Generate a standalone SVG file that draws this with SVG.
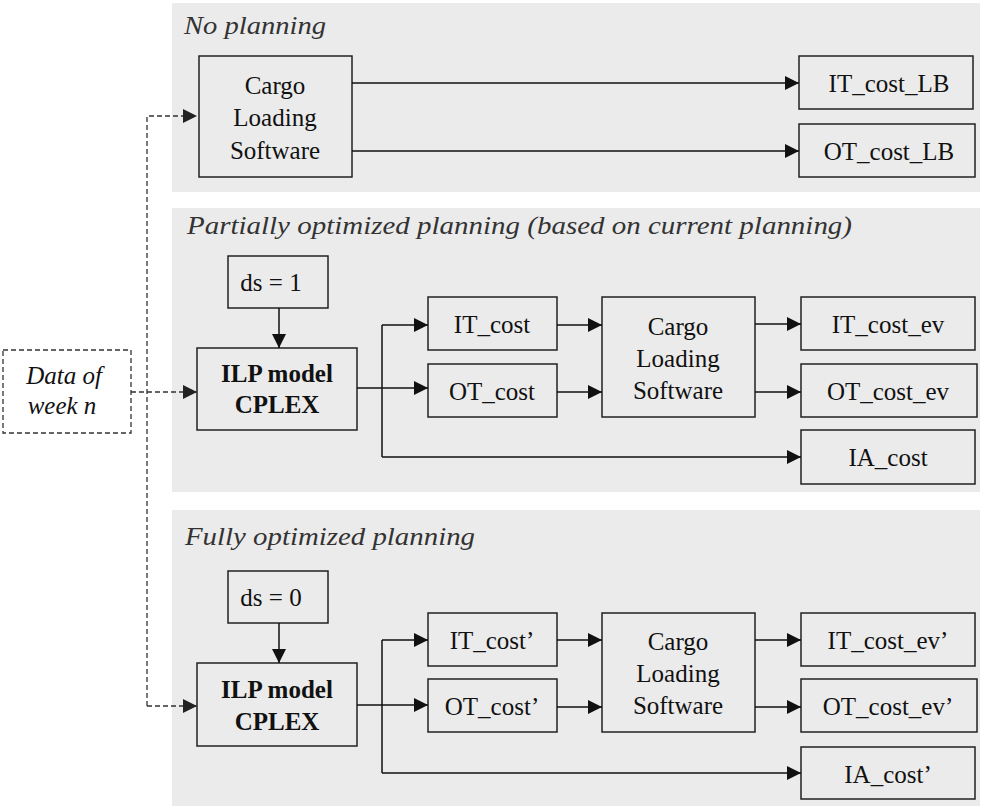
<svg xmlns="http://www.w3.org/2000/svg" width="982" height="806" viewBox="0 0 982 806">
<style>
.panel{fill:#ebebeb;stroke:none}
.box{fill:none;stroke:#222;stroke-width:1.5}
.dbox{fill:none;stroke:#333;stroke-width:1.3;stroke-dasharray:5,3}
.t{font-family:"Liberation Serif","Times New Roman",serif;font-size:25px;fill:#111;text-anchor:middle}
.b{font-weight:bold}
.title{font-family:"Liberation Serif","Times New Roman",serif;font-style:italic;font-size:25px;fill:#333}
.it{font-family:"Liberation Serif","Times New Roman",serif;font-style:italic;font-size:25px;fill:#111;text-anchor:middle}
.c{fill:none;stroke:#111;stroke-width:1.5}
.dc{fill:none;stroke:#333;stroke-width:1.3;stroke-dasharray:5,3}
</style>
<defs>
<marker id="ah" viewBox="0 0 10 10" refX="10" refY="5" markerWidth="16" markerHeight="14" markerUnits="userSpaceOnUse" orient="auto">
<path d="M0,0 L10,5 L0,10 Z" fill="#111"/>
</marker>
<marker id="dah" viewBox="0 0 10 10" refX="10" refY="5" markerWidth="16" markerHeight="14" markerUnits="userSpaceOnUse" orient="auto">
<path d="M0,0 L10,5 L0,10 Z" fill="#222"/>
</marker>
</defs>

<g id="panels">
<rect class="panel" x="172" y="3" width="808" height="189"/>
<rect class="panel" x="172" y="208" width="808" height="284"/>
<rect class="panel" x="172" y="510" width="808" height="296"/>
<text class="title" x="184" y="34" textLength="142" lengthAdjust="spacingAndGlyphs">No planning</text>
<text class="title" x="187" y="234" textLength="665" lengthAdjust="spacingAndGlyphs">Partially optimized planning (based on current planning)</text>
<text class="title" x="185" y="545" textLength="290" lengthAdjust="spacingAndGlyphs">Fully optimized planning</text>
</g>

<g id="data">
<rect class="dbox" x="3" y="350" width="128" height="83"/>
<text class="it" x="64" y="384">Data of</text>
<text class="it" x="62" y="414">week n</text>
</g>

<g id="cls1">
<rect class="box" x="199" y="56" width="153" height="121"/>
<text class="t" x="275" y="94">Cargo</text>
<text class="t" x="275" y="126">Loading</text>
<text class="t" x="275" y="159">Software</text>
</g>
<g id="itlb"><rect class="box" x="799" y="56" width="174" height="53"/><text class="t" x="889" y="92">IT_cost_LB</text></g>
<g id="otlb"><rect class="box" x="799" y="124" width="176" height="53"/><text class="t" x="889" y="160">OT_cost_LB</text></g>

<g id="ds1"><rect class="box" x="228" y="256" width="100" height="52"/><text class="t" x="271" y="291">ds = 1</text></g>
<g id="ilp1"><rect class="box" x="197" y="348" width="160" height="82"/><text class="t b" x="277" y="382">ILP model</text><text class="t b" x="277" y="413">CPLEX</text></g>
<g id="itc"><rect class="box" x="428" y="297" width="129" height="53"/><text class="t" x="492" y="333">IT_cost</text></g>
<g id="otc"><rect class="box" x="428" y="364" width="129" height="53"/><text class="t" x="492" y="400">OT_cost</text></g>
<g id="cls2">
<rect class="box" x="602" y="297" width="153" height="120"/>
<text class="t" x="678" y="335">Cargo</text>
<text class="t" x="678" y="367">Loading</text>
<text class="t" x="678" y="399">Software</text>
</g>
<g id="itev"><rect class="box" x="801" y="297" width="174" height="53"/><text class="t" x="888" y="333">IT_cost_ev</text></g>
<g id="otev"><rect class="box" x="801" y="364" width="176" height="53"/><text class="t" x="888" y="400">OT_cost_ev</text></g>
<g id="iac"><rect class="box" x="801" y="430" width="174" height="54"/><text class="t" x="888" y="466">IA_cost</text></g>

<g id="ds0"><rect class="box" x="228" y="571" width="100" height="52"/><text class="t" x="271" y="606">ds = 0</text></g>
<g id="ilp2"><rect class="box" x="197" y="663" width="160" height="83"/><text class="t b" x="277" y="698">ILP model</text><text class="t b" x="277" y="730">CPLEX</text></g>
<g id="itc2"><rect class="box" x="428" y="613" width="129" height="53"/><text class="t" x="492" y="649">IT_cost’</text></g>
<g id="otc2"><rect class="box" x="428" y="679" width="129" height="53"/><text class="t" x="492" y="715">OT_cost’</text></g>
<g id="cls3">
<rect class="box" x="602" y="613" width="153" height="119"/>
<text class="t" x="678" y="650">Cargo</text>
<text class="t" x="678" y="682">Loading</text>
<text class="t" x="678" y="714">Software</text>
</g>
<g id="itev2"><rect class="box" x="801" y="613" width="174" height="53"/><text class="t" x="888" y="649">IT_cost_ev’</text></g>
<g id="otev2"><rect class="box" x="801" y="679" width="176" height="53"/><text class="t" x="888" y="715">OT_cost_ev’</text></g>
<g id="iac2"><rect class="box" x="801" y="747" width="174" height="52"/><text class="t" x="888" y="783">IA_cost’</text></g>

<g id="connectors">
<path class="dc" d="M147,706 V116 H197" marker-end="url(#dah)"/>
<path class="dc" d="M131,392 H197" marker-end="url(#dah)"/>
<path class="dc" d="M147,706 H197" marker-end="url(#dah)"/>

<path class="c" d="M352,83 H799" marker-end="url(#ah)"/>
<path class="c" d="M352,151 H799" marker-end="url(#ah)"/>

<path class="c" d="M279,308 V348" marker-end="url(#ah)"/>
<path class="c" d="M357,388 H428" marker-end="url(#ah)"/>
<path class="c" d="M382,325 V457"/>
<path class="c" d="M382,325 H428" marker-end="url(#ah)"/>
<path class="c" d="M382,457 H801" marker-end="url(#ah)"/>
<path class="c" d="M557,325 H602" marker-end="url(#ah)"/>
<path class="c" d="M557,392 H602" marker-end="url(#ah)"/>
<path class="c" d="M755,324 H801" marker-end="url(#ah)"/>
<path class="c" d="M755,392 H801" marker-end="url(#ah)"/>

<path class="c" d="M279,623 V663" marker-end="url(#ah)"/>
<path class="c" d="M357,705 H428" marker-end="url(#ah)"/>
<path class="c" d="M382,640 V773"/>
<path class="c" d="M382,640 H428" marker-end="url(#ah)"/>
<path class="c" d="M382,773 H801" marker-end="url(#ah)"/>
<path class="c" d="M557,640 H602" marker-end="url(#ah)"/>
<path class="c" d="M557,707 H602" marker-end="url(#ah)"/>
<path class="c" d="M755,640 H801" marker-end="url(#ah)"/>
<path class="c" d="M755,707 H801" marker-end="url(#ah)"/>
</g>
</svg>
